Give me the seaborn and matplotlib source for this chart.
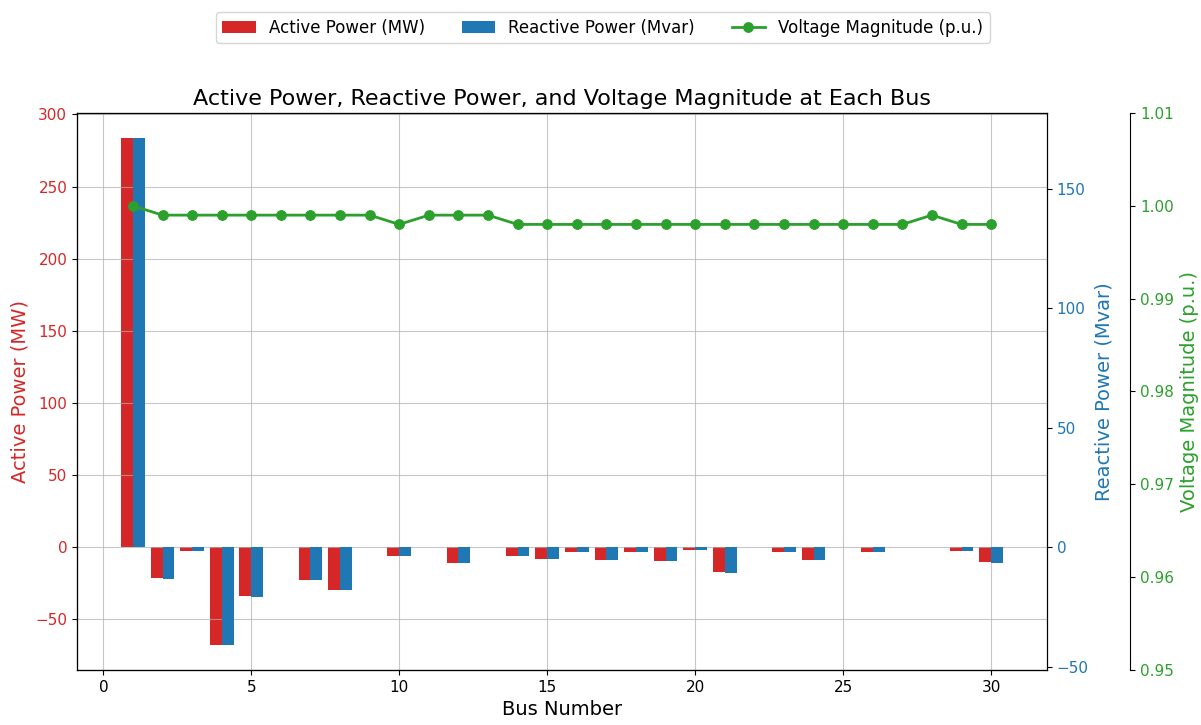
import numpy as np
import pandas as pd
import matplotlib
matplotlib.use("Agg")
import matplotlib.pyplot as plt
import seaborn as sns

# Bus numbers of the 30-bus system
buses = list(range(1, 31))

# Net active power injection at each bus (MW)
active_mw = [283.4, -21.7, -2.4, -67.6, -34.2, 0.0, -22.8, -30.0, 0.0, -5.8,
             0.0, -11.2, 0.0, -6.2, -8.2, -3.5, -9.0, -3.2, -9.5, -2.2,
             -17.5, 0.0, -3.2, -8.7, 0.0, -3.5, 0.0, 0.0, -2.4, -10.6]

# Net reactive power injection at each bus (Mvar)
reactive_mvar = [171.2, -13.1, -1.4, -40.8, -20.7, 0.0, -13.8, -18.1, 0.0, -3.5,
                 0.0, -6.8, 0.0, -3.7, -5.0, -2.1, -5.4, -1.9, -5.7, -1.3,
                 -10.6, 0.0, -1.9, -5.3, 0.0, -2.1, 0.0, 0.0, -1.4, -6.4]

# Voltage magnitude at each bus (p.u.)
voltage_pu = [1.000, 0.999, 0.999, 0.999, 0.999, 0.999, 0.999, 0.999, 0.999, 0.998,
              0.999, 0.999, 0.999, 0.998, 0.998, 0.998, 0.998, 0.998, 0.998, 0.998,
              0.998, 0.998, 0.998, 0.998, 0.998, 0.998, 0.998, 0.999, 0.998, 0.998]

RED = "#d62728"
BLUE = "#1f77b4"
GREEN = "#2ca02c"
bar_w = 0.4

df = pd.DataFrame({"bus": buses, "P": active_mw, "Q": reactive_mvar, "V": voltage_pu})
df["x_p"] = df["bus"] - bar_w / 2
df["x_q"] = df["bus"] + bar_w / 2

fig = plt.figure(figsize=(12.01, 7.25), dpi=100)
ax1 = fig.add_axes([0.0641, 0.0759, 0.8077, 0.7682])
ax2 = ax1.twinx()
ax3 = ax1.twinx()
ax3.spines["right"].set_position(("outward", 60))

# Active power bars on the left axis
ax1.bar(df["x_p"], df["P"], width=bar_w, color=RED, label="Active Power (MW)")
# Reactive power bars on the first right axis
ax2.bar(df["x_q"], df["Q"], width=bar_w, color=BLUE, label="Reactive Power (Mvar)")
# Voltage profile on the outer right axis
sns.lineplot(data=df, x="bus", y="V", ax=ax3, color=GREEN, marker="o",
             markersize=7, linewidth=2, markeredgecolor=GREEN,
             label="Voltage Magnitude (p.u.)", legend=False)

ax3.set_ylim(0.95, 1.01)
ax3.set_yticks([0.95, 0.96, 0.97, 0.98, 0.99, 1.00, 1.01])

ax1.grid(True, alpha=0.7)
ax1.set_xlabel("Bus Number", fontsize=14)
ax1.set_ylabel("Active Power (MW)", color=RED, fontsize=14)
ax2.set_ylabel("Reactive Power (Mvar)", color=BLUE, fontsize=14)
ax3.set_ylabel("Voltage Magnitude (p.u.)", color=GREEN, fontsize=14)
ax1.tick_params(axis="y", labelcolor=RED, labelsize=11)
ax2.tick_params(axis="y", labelcolor=BLUE, labelsize=11)
ax3.tick_params(axis="y", labelcolor=GREEN, labelsize=11)
ax1.tick_params(axis="x", labelsize=11)
ax1.set_title("Active Power, Reactive Power, and Voltage Magnitude at Each Bus", fontsize=16)

handles = []
labels = []
for ax in (ax1, ax2, ax3):
    h, l = ax.get_legend_handles_labels()
    handles += h
    labels += l
fig.legend(handles, labels, loc="upper center", bbox_to_anchor=(0.502, 0.995),
           ncol=3, fontsize=12, columnspacing=2.2)

fig.savefig("out.png", dpi=100)
